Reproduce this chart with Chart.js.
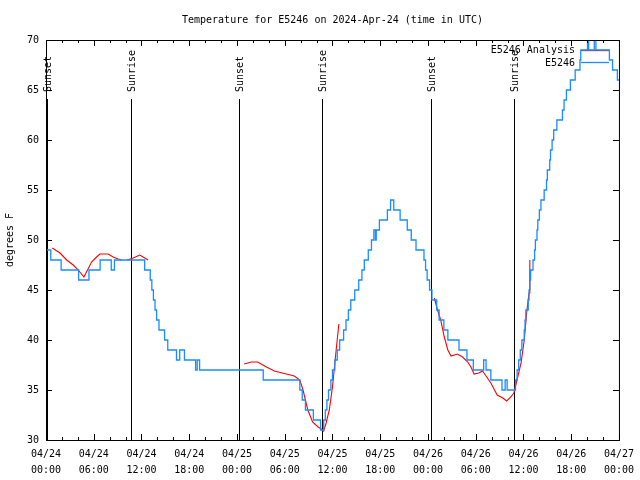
<!doctype html>
<html lang="en">
<head>
<meta charset="utf-8">
<title>Temperature for E5246</title>
<style>
  * { margin: 0; padding: 0; }
  body { background: #fff; }
  #chart { display: block; }
</style>
</head>
<body>
<canvas id="chart" width="640" height="480"></canvas>
<script src="https://cdn.jsdelivr.net/npm/chart.js"></script>
<script>
// all times are hours since 04/24 00:00 UTC

// E5246 observations (value holds until the next change)
const obsHours = [0, 0.6, 1.9, 4.1, 5.4, 6.8, 8.2, 8.6, 12.4, 13.1, 13.3, 13.5, 13.7, 13.9, 14.2, 14.9,
  15.3, 16.4, 16.8, 17.4, 18.8, 19.0, 19.3, 27.3, 31.9, 32.2, 32.6, 33.6, 34.5, 34.9, 35.1, 35.3,
  35.5, 35.8, 36.0, 36.3, 36.6, 36.9, 37.4, 37.7, 38.0, 38.3, 38.8, 39.3, 39.7, 40.0, 40.5, 40.9,
  41.2, 41.4, 41.5, 41.9, 42.9, 43.3, 43.7, 44.5, 45.4, 45.9, 46.5, 47.5, 47.7, 47.9, 48.2, 48.5,
  49.1, 49.4, 50.0, 50.5, 51.9, 52.9, 53.7, 55.0, 55.3, 55.9, 57.3, 57.7, 57.95, 59.0, 59.2, 59.4,
  59.6, 59.8, 60.1, 60.2, 60.3, 60.6, 60.7, 60.8, 60.9, 61.2, 61.4, 61.5, 61.7, 61.8, 62.0, 62.2,
  62.6, 62.9, 63.0, 63.3, 63.4, 63.6, 63.8, 64.2, 64.9, 65.1, 65.4, 65.9, 66.5, 67.1, 67.2, 68.05,
  68.2, 68.9, 69.1, 70.8, 71.2, 71.8, 72];
const obsTemps = [49, 48, 47, 46, 47, 48, 47, 48, 47, 46, 45, 44, 43, 42, 41, 40,
  39, 38, 39, 38, 37, 38, 37, 36, 35, 34, 33, 32, 31, 32, 33, 34,
  35, 36, 37, 38, 39, 40, 41, 42, 43, 44, 45, 46, 47, 48, 49, 50,
  51, 50, 51, 52, 53, 54, 53, 52, 51, 50, 49, 48, 47, 46, 45, 44,
  43, 42, 41, 40, 39, 38, 37, 38, 37, 36, 35, 36, 35, 36, 37, 38,
  39, 40, 41, 42, 43, 44, 45, 46, 47, 48, 49, 50, 51, 52, 53, 54,
  55, 56, 57, 58, 59, 60, 61, 62, 63, 64, 65, 66, 67, 68, 69, 71,
  69, 71, 69, 68, 67, 66, 66];

// E5246 Analysis (null = no analysis)
const anaHours = [0.79, 1.76, 2.6, 3.42, 4.05, 4.77, 5.73, 6.36, 6.77, 7.81, 8.44, 9.07, 9.53, 9.8,
  10.2, 10.95, 11.79, 12.83, 18,
  24.9, 25.8, 26.6, 27.7, 28.7, 30.2, 31.2, 31.9, 32.3, 32.6, 32.9, 33.5, 34.2, 34.6, 34.9, 35.2,
  35.6, 36.0, 36.25, 36.5, 36.8, 42,
  48.8, 49.2, 49.6, 50.05, 50.5, 50.9, 51.7, 52.35, 53.0, 53.4, 53.8, 54.4, 54.85, 55.3, 55.9, 56.7,
  57.4, 57.9, 58.4, 58.8, 59.25, 59.7, 60.1, 60.4, 60.7, 60.8];
const anaTemps = [49.2, 48.7, 48.0, 47.5, 47.0, 46.3, 47.8, 48.3, 48.6, 48.6, 48.3, 48.1, 48.0, null,
  48.0, 48.2, 48.5, 48.0, null,
  37.6, 37.8, 37.8, 37.3, 36.9, 36.6, 36.4, 36.0, 35.0, 34.0, 33.0, 31.8, 31.3, 31.1, 30.9, 31.7,
  33.0, 35.3, 37.3, 39.3, 41.6, null,
  44.2, 43.0, 42.0, 40.3, 39.0, 38.4, 38.6, 38.3, 37.8, 37.3, 36.6, 36.7, 36.9, 36.4, 35.7, 34.5,
  34.2, 33.9, 34.3, 34.7, 36.2, 37.7, 40.0, 42.7, 44.7, 48.0];

const sunHours = [0.13, 10.7, 24.25, 34.66, 48.34, 58.79];
const sunLabels = ['Sunset', 'Sunrise', 'Sunset', 'Sunrise', 'Sunset', 'Sunrise'];

const tickLabels = [
  ['04/24', '00:00'], ['04/24', '06:00'], ['04/24', '12:00'], ['04/24', '18:00'],
  ['04/25', '00:00'], ['04/25', '06:00'], ['04/25', '12:00'], ['04/25', '18:00'],
  ['04/26', '00:00'], ['04/26', '06:00'], ['04/26', '12:00'], ['04/26', '18:00'],
  ['04/27', '00:00']
];

const titleText = 'Temperature for E5246 on 2024-Apr-24 (time in UTC)';
const BLUE = '#1a8cff';
const RED = '#ff0000';
const FAMILY = '"DejaVu Sans Mono", "Liberation Mono", monospace';
const FONT = '10px ' + FAMILY;

// gnuplot style frame, inward ticks, sun lines, key and title
const gnuplotLook = {
  id: 'gnuplotLook',
  beforeDatasetsDraw(chart) {
    const { ctx, chartArea: a, scales: { x } } = chart;
    ctx.save();
    ctx.strokeStyle = '#000';
    ctx.lineWidth = 1;
    sunHours.forEach(h => {
      const px = Math.round(x.getPixelForValue(h)) + 0.5;
      ctx.beginPath();
      ctx.moveTo(px, a.top + 59);
      ctx.lineTo(px, a.bottom);
      ctx.stroke();
    });
    // key samples
    ctx.lineWidth = 1.3;
    ctx.strokeStyle = RED;
    ctx.beginPath(); ctx.moveTo(581, 50.5); ctx.lineTo(609, 50.5); ctx.stroke();
    ctx.strokeStyle = BLUE;
    ctx.beginPath(); ctx.moveTo(581, 62.5); ctx.lineTo(609, 62.5); ctx.stroke();
    ctx.restore();
  },
  afterDraw(chart) {
    const { ctx, chartArea: a, scales: { x, y } } = chart;
    ctx.save();
    ctx.strokeStyle = '#000';
    ctx.lineWidth = 1;
    ctx.strokeRect(a.left + 0.5, a.top + 0.5, a.right - a.left, a.bottom - a.top);

    ctx.beginPath();
    x.ticks.forEach(t => {
      const px = Math.round(x.getPixelForValue(t.value)) + 0.5;
      const len = t.value % 6 === 0 ? 6 : 3;
      ctx.moveTo(px, a.bottom); ctx.lineTo(px, a.bottom - len);
      ctx.moveTo(px, a.top); ctx.lineTo(px, a.top + len);
    });
    y.ticks.forEach(t => {
      const py = Math.round(y.getPixelForValue(t.value)) + 0.5;
      ctx.moveTo(a.left, py); ctx.lineTo(a.left + 6, py);
      ctx.moveTo(a.right, py); ctx.lineTo(a.right - 6, py);
    });
    ctx.stroke();

    ctx.fillStyle = '#000';
    ctx.font = FONT;
    ctx.textBaseline = 'middle';
    ctx.textAlign = 'center';
    ctx.fillText(titleText, (a.left + a.right) / 2, 20);

    ctx.textAlign = 'right';
    ctx.fillText('E5246 Analysis', 575, 50);
    ctx.fillText('E5246', 575, 63);

    sunHours.forEach((h, i) => {
      const px = Math.round(x.getPixelForValue(h)) + 1;
      ctx.save();
      ctx.translate(px, a.top + 52);
      ctx.rotate(-Math.PI / 2);
      ctx.textAlign = 'left';
      ctx.fillText(sunLabels[i], 0, 0);
      ctx.restore();
    });
    ctx.restore();
  }
};

new Chart(document.getElementById('chart'), {
  type: 'line',
  data: {
    datasets: [{
      label: 'E5246',
      data: obsHours.map((h, i) => ({ x: h, y: obsTemps[i] })),
      borderColor: BLUE,
      borderWidth: 1.3,
      pointRadius: 0,
      stepped: true,
      fill: false
    }, {
      label: 'E5246 Analysis',
      data: anaHours.map((h, i) => ({ x: h, y: anaTemps[i] })),
      borderColor: RED,
      borderWidth: 1.1,
      pointRadius: 0,
      spanGaps: false,
      tension: 0,
      fill: false
    }]
  },
  options: {
    responsive: false,
    devicePixelRatio: 1,
    animation: false,
    events: [],
    layout: { padding: { top: 40, right: 20, left: 0, bottom: 0 } },
    plugins: {
      legend: { display: false },
      tooltip: { enabled: false },
      title: { display: false }
    },
    scales: {
      x: {
        type: 'linear',
        min: 0,
        max: 72,
        grid: { display: false, drawTicks: false },
        border: { display: false },
        afterFit: s => { s.height = 40; },
        ticks: {
          stepSize: 2,
          maxTicksLimit: 100,
          autoSkip: false,
          maxRotation: 0,
          minRotation: 0,
          padding: 6,
          color: '#000',
          font: { family: FAMILY, size: 10, lineHeight: 1.6 },
          callback: v => (v % 6 === 0 ? tickLabels[v / 6] : '')
        }
      },
      y: {
        min: 30,
        max: 70,
        grid: { display: false, drawTicks: false },
        border: { display: false },
        afterFit: s => { s.width = 46; },
        title: {
          display: true,
          text: 'degrees F',
          color: '#000',
          font: { family: FAMILY, size: 10 },
          padding: { top: 4, bottom: 0 }
        },
        ticks: {
          stepSize: 5,
          padding: 7,
          color: '#000',
          font: { family: FAMILY, size: 10 }
        }
      }
    }
  },
  plugins: [gnuplotLook]
});
</script>
</body>
</html>
